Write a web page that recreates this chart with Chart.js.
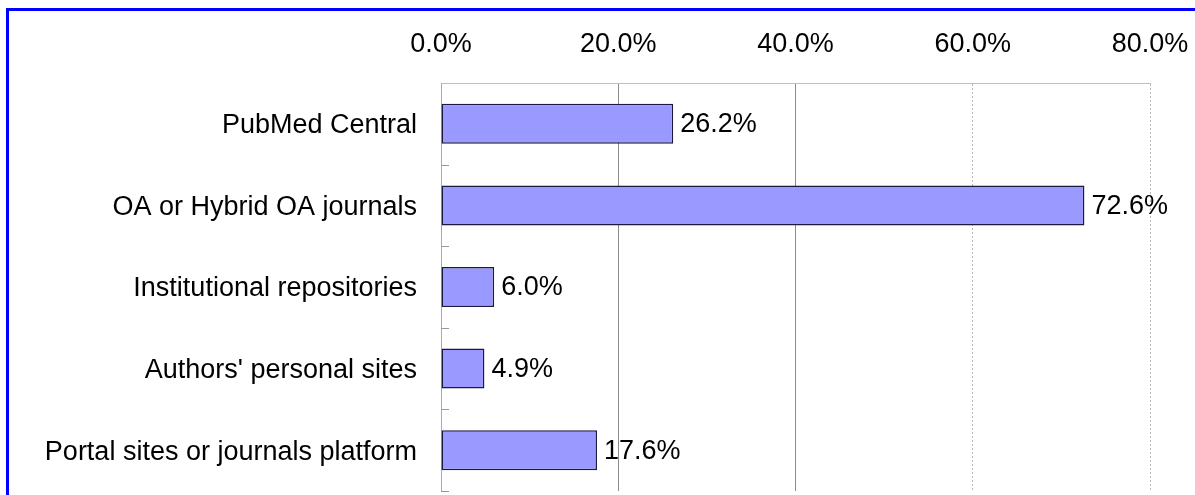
<!DOCTYPE html>
<html>
<head>
<meta charset="utf-8">
<script src="https://cdn.jsdelivr.net/npm/chart.js@4/dist/chart.umd.min.js"></script>
<style>
  html, body { margin: 0; padding: 0; background: #fff; overflow: hidden; }
  #wrap { position: relative; width: 1195px; height: 495px; }
  #frame { position: absolute; left: 6px; top: 8px; width: 1300px; height: 600px;
           border-top: 3px solid #0000ff; border-left: 3px solid #0000ff; box-sizing: border-box; }
  canvas { position: absolute; left: 0; top: 0; }
</style>
</head>
<body>
<div id="wrap">
  <div id="frame"></div>
  <canvas id="c" width="1195" height="495"></canvas>
</div>
<script>
const categories = [
  "PubMed Central",
  "OA or Hybrid OA journals",
  "Institutional repositories",
  "Authors' personal sites",
  "Portal sites or journals platform"
];
const values = [26.2, 72.6, 6.0, 4.9, 17.6];
const xTicks = [0, 20, 40, 60, 80];

const FONT = "'Liberation Sans', Arial, sans-serif";

const valueLabels = {
  id: 'valueLabels',
  afterDatasetsDraw(chart) {
    const ctx = chart.ctx;
    const meta = chart.getDatasetMeta(0);
    ctx.save();
    ctx.font = '27px ' + FONT;
    ctx.fillStyle = '#000';
    ctx.textAlign = 'left';
    ctx.textBaseline = 'middle';
    meta.data.forEach((bar, i) => {
      ctx.fillText(values[i].toFixed(1) + '%', bar.x + 7, bar.y + 1);
    });
    ctx.restore();
  }
};

const catTicks = {
  id: 'catTicks',
  afterDraw(chart) {
    const ctx = chart.ctx;
    const y = chart.scales.y;
    const x0 = chart.chartArea.left;
    const step = y.getPixelForValue(1) - y.getPixelForValue(0);
    ctx.save();
    ctx.strokeStyle = '#999';
    ctx.lineWidth = 1;
    for (let i = 0; i < categories.length; i++) {
      const yy = Math.round(y.getPixelForValue(i) + step / 2) + 0.5;
      ctx.beginPath();
      ctx.moveTo(x0, yy);
      ctx.lineTo(x0 + 8, yy);
      ctx.stroke();
    }
    ctx.restore();
  }
};

new Chart(document.getElementById('c'), {
  type: 'bar',
  data: {
    labels: categories,
    datasets: [{
      data: values,
      backgroundColor: '#9999ff',
      borderColor: '#1a1a40',
      borderWidth: 1.5,
      borderSkipped: false,
      barPercentage: 0.49,
      categoryPercentage: 1.0
    }]
  },
  options: {
    indexAxis: 'y',
    responsive: false,
    animation: false,
    layout: { padding: { left: 0, right: 45, top: 0, bottom: 4 } },
    plugins: { legend: { display: false }, tooltip: { enabled: false } },
    scales: {
      x: {
        position: 'top',
        min: 0,
        max: 80,
        afterBuildTicks(scale) { scale.ticks = xTicks.map(v => ({ value: v })); },
        afterFit(scale) {
          scale.height = 83;
          scale.paddingLeft = 0; scale.paddingRight = 0;
          scale.paddingTop = 0; scale.paddingBottom = 0;
        },
        ticks: {
          color: '#000',
          font: { family: FONT, size: 27 },
          padding: 22,
          callback: v => v.toFixed(1) + '%'
        },
        grid: {
          drawTicks: false,
          color: ctx => (ctx.tick && (ctx.tick.value === 20 || ctx.tick.value === 40)) ? '#8c8c8c' : '#b8b8b8',
          lineWidth: 1
        },
        border: {
          display: true,
          color: '#bdbdbd',
          dash: ctx => (ctx.tick && (ctx.tick.value === 20 || ctx.tick.value === 40)) ? [] : [2, 2]
        }
      },
      y: {
        afterFit(scale) {
          scale.width = 441;
          scale.paddingLeft = 0; scale.paddingRight = 0;
          scale.paddingTop = 0; scale.paddingBottom = 0;
        },
        ticks: {
          color: '#000',
          font: { family: FONT, size: 27 },
          padding: 24,
          labelOffset: 2
        },
        grid: { display: false, drawTicks: false },
        border: { display: true, color: '#aaa', dash: [2, 2] }
      }
    }
  },
  plugins: [valueLabels, catTicks]
});
</script>
</body>
</html>
